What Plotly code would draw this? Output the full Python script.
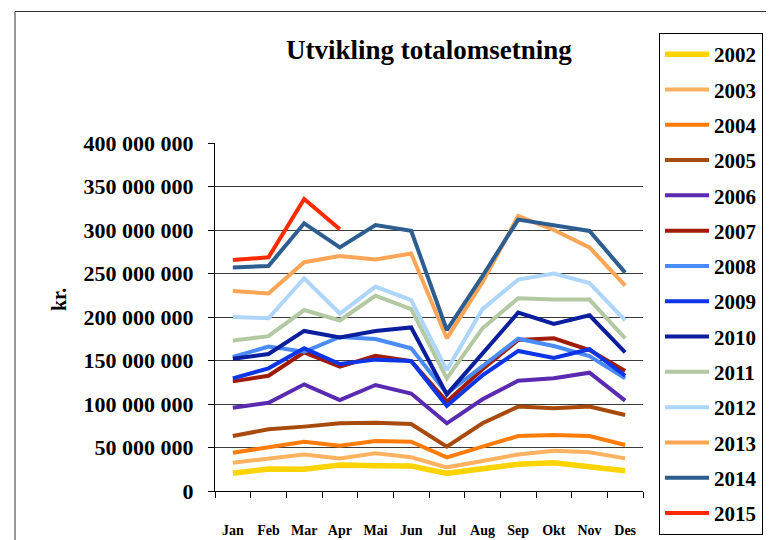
import plotly.graph_objects as go

months = ["Jan", "Feb", "Mar", "Apr", "Mai", "Jun", "Jul", "Aug", "Sep", "Okt", "Nov", "Des"]

y2002 = [20.3, 25.3, 25.0, 30.0, 29.0, 28.7, 20.3, 25.3, 30.7, 32.5, 27.2, 23.3]
y2003 = [32.5, 37.5, 42.0, 37.5, 43.3, 38.7, 27.2, 34.5, 42.0, 46.3, 44.5, 37.5]
y2004 = [44.0, 50.0, 56.7, 52.0, 57.5, 56.7, 38.7, 51.0, 63.2, 64.4, 63.2, 52.9]
y2005 = [63.2, 71.0, 74.0, 77.8, 78.5, 77.0, 51.0, 77.8, 97.0, 95.0, 97.0, 87.4]
y2006 = [95.8, 101.5, 122.6, 104.6, 121.8, 112.0, 77.8, 105.4, 126.8, 129.5, 136.0, 103.8]
y2007 = [126.0, 132.5, 159.4, 143.0, 155.5, 149.4, 102.7, 140.0, 173.6, 175.5, 162.0, 138.0]
y2008 = [154.0, 166.0, 160.0, 177.0, 174.7, 164.0, 112.0, 143.0, 175.0, 166.7, 155.0, 129.5]
y2009 = [129.5, 141.0, 164.0, 146.0, 151.0, 149.4, 97.7, 133.0, 161.0, 153.0, 163.0, 132.5]
y2010 = [152.0, 157.5, 184.0, 176.6, 184.0, 188.0, 111.0, 158.0, 205.0, 192.0, 202.0, 159.4]
y2011 = [173.0, 178.0, 208.0, 196.0, 224.5, 209.0, 129.5, 187.0, 221.5, 220.0, 220.0, 175.5]
y2012 = [200.0, 198.5, 244.5, 204.0, 235.0, 219.5, 139.0, 209.0, 243.0, 250.0, 239.0, 196.0]
y2013 = [230.0, 227.0, 263.0, 270.0, 266.0, 273.0, 175.5, 240.0, 316.0, 300.0, 280.0, 236.0]
y2014 = [257.0, 258.6, 307.7, 280.0, 305.7, 299.2, 185.0, 247.0, 312.0, 305.0, 298.9, 251.0]
y2015 = [265.5, 268.6, 335.6, 300.8, None, None, None, None, None, None, None, None]

years = ["2002", "2003", "2004", "2005", "2006", "2007", "2008",
         "2009", "2010", "2011", "2012", "2013", "2014", "2015"]
series = [y2002, y2003, y2004, y2005, y2006, y2007, y2008,
          y2009, y2010, y2011, y2012, y2013, y2014, y2015]
colors = ["#FFD400", "#FFB260", "#FF7C0A", "#A84A0C", "#5A2BB0", "#A01C08", "#4A8BF7",
          "#0B35E6", "#0A1E9E", "#B2C9A2", "#ADD6FA", "#FBA556", "#2D5E8F", "#FF2A00"]
widths = [5.5, 4, 4, 4, 4, 4, 4, 4, 4, 4, 4, 4, 4, 4]

ytick_vals = [0, 50e6, 100e6, 150e6, 200e6, 250e6, 300e6, 350e6, 400e6]
ytick_text = ["0", "50 000 000", "100 000 000", "150 000 000", "200 000 000",
              "250 000 000", "300 000 000", "350 000 000", "400 000 000"]

FONT = "Liberation Serif, Times New Roman, serif"

fig = go.Figure()
for name, vals, col, w in zip(years, series, colors, widths):
    fig.add_trace(go.Scatter(
        x=months,
        y=[v * 1e6 if v is not None else None for v in vals],
        mode="lines",
        name=name,
        legendgroup=name,
        line=dict(color=col, width=w),
        connectgaps=False,
    ))

# The page body has an 8 px margin, so the figure is drawn 8 px right/down.
OFF = 8
W, H = 774, 540
L, R, T, B = 215 - OFF, 774 - 643 + OFF, 143 - OFF, 540 - 491 + OFF
pw, ph = W - L - R, H - T - B

def px_x(x):
    return (x - OFF - L) / pw

def px_y(y):
    return (H - B - (y - OFF)) / ph

fig.update_layout(
    width=W, height=H,
    margin=dict(l=L, r=R, t=T, b=B, pad=0, autoexpand=False),
    paper_bgcolor="white",
    plot_bgcolor="white",
    font=dict(family=FONT, color="black"),
    showlegend=True,
    legend=dict(
        x=px_x(659), y=px_y(33), xanchor="left", yanchor="top",
        bordercolor="black", borderwidth=1,
        font=dict(family=FONT, size=21, weight="bold", color="black"),
        tracegroupgap=5,
        traceorder="grouped",
        itemwidth=44,
        bgcolor="white",
        maxheight=600,
    ),
    xaxis=dict(
        type="category",
        showgrid=False,
        showline=True, linecolor="black", linewidth=1,
        ticks="outside", tickson="boundaries", ticklen=6, tickcolor="black",
        tickfont=dict(family=FONT, size=14, weight="bold", color="black"),
        ticklabelstandoff=26,
        range=[-0.5, 11.5],
    ),
    yaxis=dict(
        range=[0, 400e6],
        tickvals=ytick_vals, ticktext=ytick_text,
        showgrid=True, gridcolor="#3a3a3a", gridwidth=1,
        showline=True, linecolor="black", linewidth=1,
        ticks="outside", ticklen=6, tickcolor="black",
        tickfont=dict(family=FONT, size=22, weight="bold", color="black"),
        ticklabelstandoff=10,
        zeroline=False,
    ),
    annotations=[
        dict(text="Utvikling totalomsetning", xref="paper", yref="paper",
             x=px_x(429), y=px_y(50), xanchor="center", yanchor="middle",
             showarrow=False,
             font=dict(family=FONT, size=27, weight="bold", color="black")),
        dict(text="kr.", xref="paper", yref="paper",
             x=px_x(59), y=px_y(300), xanchor="center", yanchor="middle",
             textangle=-90, showarrow=False,
             font=dict(family=FONT, size=20, weight="bold", color="black")),
    ],
    shapes=[
        dict(type="rect", xref="paper", yref="paper",
             x0=px_x(15), x1=px_x(900), y0=px_y(700), y1=px_y(11.5),
             line=dict(color="#333333", width=1), fillcolor="rgba(0,0,0,0)",
             layer="below"),
    ],
)

fig.write_html("out.html")
